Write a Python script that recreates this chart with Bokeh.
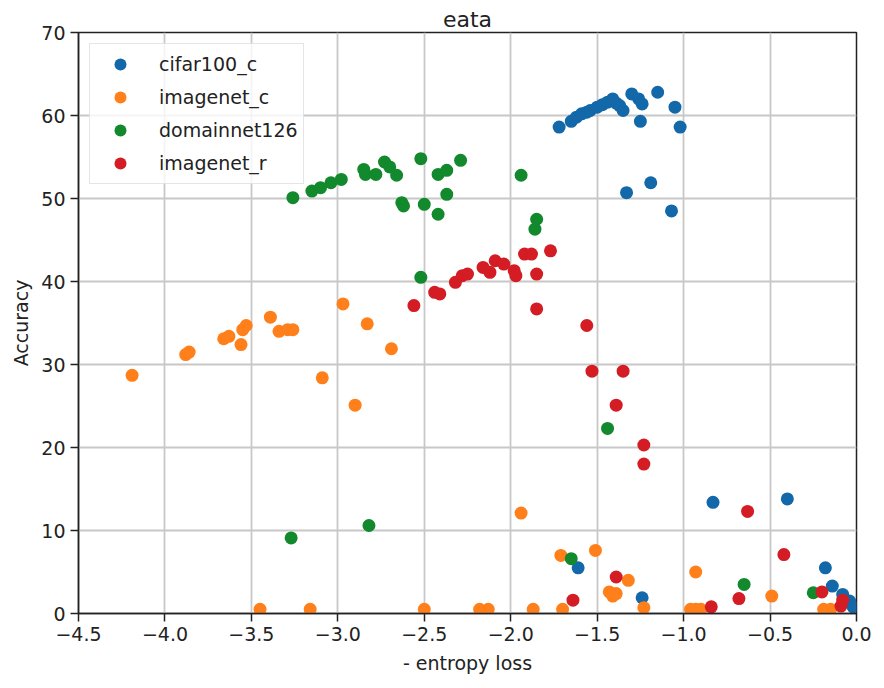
from bokeh.plotting import figure
from bokeh.models import ColumnDataSource, FixedTicker, Legend, LegendItem, Range1d
from bokeh.embed import file_html
from bokeh.resources import INLINE

# ---------------- data ----------------
cifar_x = [-1.72, -1.65, -1.62, -1.59, -1.56, -1.54, -1.50, -1.47, -1.44, -1.41, -1.39, -1.37,
           -1.35, -1.30, -1.26, -1.24, -1.25, -1.15, -1.05, -1.02, -1.19, -1.33, -1.07,
           -0.83, -0.40, -1.61, -1.24, -0.18, -0.14, -0.08, -0.04, -0.02]
cifar_y = [58.6, 59.3, 59.8, 60.2, 60.4, 60.6, 61.0, 61.3, 61.6, 62.0, 61.5, 61.2,
           60.6, 62.6, 62.0, 61.4, 59.3, 62.8, 61.0, 58.6, 51.9, 50.7, 48.5,
           13.4, 13.8, 5.5, 1.9, 5.5, 3.3, 2.3, 1.5, 0.8]

imnc_x = [-4.19, -3.88, -3.86, -3.66, -3.63, -3.56, -3.55, -3.53, -3.39, -3.34, -3.29, -3.26,
          -2.97, -2.83, -3.09, -2.90, -2.69,
          -1.94, -1.71, -1.51, -1.32, -1.41, -1.43, -1.39, -1.23, -0.93, -0.96, -0.93, -0.90,
          -0.49, -0.19, -0.15, -1.87, -1.70, -3.45, -3.16, -2.50, -2.18, -2.13]
imnc_y = [28.7, 31.2, 31.5, 33.1, 33.4, 32.4, 34.2, 34.7, 35.7, 34.0, 34.2, 34.2,
          37.3, 34.9, 28.4, 25.1, 31.9,
          12.1, 7.0, 7.6, 4.0, 2.1, 2.6, 2.4, 0.7, 5.0, 0.5, 0.5, 0.5,
          2.1, 0.5, 0.5, 0.5, 0.5, 0.5, 0.5, 0.5, 0.5, 0.5]

dom_x = [-3.26, -3.15, -3.10, -3.04, -2.98, -2.85, -2.84, -2.78, -2.73, -2.70, -2.66, -2.63,
         -2.62, -2.52, -2.50, -2.42, -2.42, -2.37, -2.29, -2.37, -1.94, -1.85, -1.86, -2.52,
         -1.44, -3.27, -2.82, -1.65, -0.65, -0.25]
dom_y = [50.1, 50.9, 51.3, 51.9, 52.3, 53.5, 52.9, 52.9, 54.4, 53.8, 52.8, 49.5,
         49.1, 54.8, 49.3, 48.1, 52.9, 53.4, 54.6, 50.5, 52.8, 47.5, 46.3, 40.5,
         22.3, 9.1, 10.6, 6.6, 3.5, 2.5]

imnr_x = [-2.56, -2.44, -2.41, -2.32, -2.28, -2.25, -2.16, -2.12, -2.09, -2.04, -1.98, -1.97,
          -1.92, -1.88, -1.77, -1.85, -1.85, -1.56, -1.53, -1.35, -1.39, -1.23, -1.23,
          -0.63, -0.42, -1.39, -1.64, -0.84, -0.68, -0.20, -0.09, -0.08]
imnr_y = [37.1, 38.7, 38.5, 39.9, 40.7, 40.9, 41.7, 41.1, 42.5, 42.1, 41.3, 40.7,
          43.3, 43.3, 43.7, 40.9, 36.7, 34.7, 29.2, 29.2, 25.1, 20.3, 18.0,
          12.3, 7.1, 4.4, 1.6, 0.8, 1.8, 2.6, 0.9, 1.6]

series_names = ["cifar100_c", "imagenet_c", "domainnet126", "imagenet_r"]
series_colors = ["#1268a8", "#ff7f1a", "#11892c", "#d41c24"]

x_ticks = [-4.5, -4.0, -3.5, -3.0, -2.5, -2.0, -1.5, -1.0, -0.5, 0.0]
x_tick_labels = ["\u22124.5", "\u22124.0", "\u22123.5", "\u22123.0", "\u22122.5",
                 "\u22122.0", "\u22121.5", "\u22121.0", "\u22120.5", "0.0"]
y_ticks = [0, 10, 20, 30, 40, 50, 60, 70]

FONT = "DejaVu Sans"

p = figure(width=876, height=680, frame_width=778, frame_height=581,
           output_backend="svg", toolbar_location=None,
           x_range=Range1d(-4.5, 0.0), y_range=Range1d(0, 70),
           min_border_left=78, min_border_top=32, min_border_right=20, min_border_bottom=60,
           title="eata")

p.title.align = "center"
p.title.text_font = FONT
p.title.text_font_size = "22px"
p.title.text_font_style = "normal"
p.title.text_color = "#222222"
p.title.standoff = 2

renderers = []
for xs, ys, c in zip([cifar_x, imnc_x, dom_x, imnr_x], [cifar_y, imnc_y, dom_y, imnr_y], series_colors):
    src = ColumnDataSource(dict(x=xs, y=ys))
    r = p.scatter("x", "y", source=src, size=13, fill_color=c, line_color=c, line_width=0)
    renderers.append(r)

legend = Legend(items=[LegendItem(label=n, renderers=[r]) for n, r in zip(series_names, renderers)],
                location="top_left")
legend.label_text_font = FONT
legend.label_text_font_size = "19px"
legend.label_text_color = "#222222"
legend.glyph_width = 50
legend.glyph_height = 30
legend.label_height = 30
legend.label_standoff = 14
legend.spacing = 3
legend.padding = 5
legend.margin = 11
legend.border_line_color = "#cccccc"
legend.border_line_width = 1.5
legend.background_fill_alpha = 0.8
p.add_layout(legend)

p.xaxis.ticker = FixedTicker(ticks=x_ticks)
p.xaxis.major_label_overrides = {t: l for t, l in zip(x_ticks, x_tick_labels)}
p.yaxis.ticker = FixedTicker(ticks=y_ticks)

for ax in (p.xaxis, p.yaxis):
    ax.major_label_text_font = FONT
    ax.major_label_text_font_size = "19px"
    ax.major_label_text_color = "#222222"
    ax.axis_label_text_font = FONT
    ax.axis_label_text_font_size = "19px"
    ax.axis_label_text_font_style = "normal"
    ax.axis_label_text_color = "#222222"
    ax.axis_line_color = "#222222"
    ax.axis_line_width = 1.5
    ax.major_tick_line_color = "#222222"
    ax.major_tick_line_width = 1.5
    ax.major_tick_out = 8
    ax.major_tick_in = 0
    ax.minor_tick_line_color = None
    ax.major_label_standoff = 5

p.xaxis.axis_label = "- entropy loss"
p.yaxis.axis_label = "Accuracy"
p.xaxis.axis_label_standoff = 8
p.yaxis.axis_label_standoff = 6

p.outline_line_color = "#222222"
p.outline_line_width = 1.5
p.grid.grid_line_color = "#c8c8c8"
p.grid.grid_line_width = 1.8
p.background_fill_color = "white"
p.border_fill_color = "white"

open("out.html", "w").write(file_html(p, INLINE))
